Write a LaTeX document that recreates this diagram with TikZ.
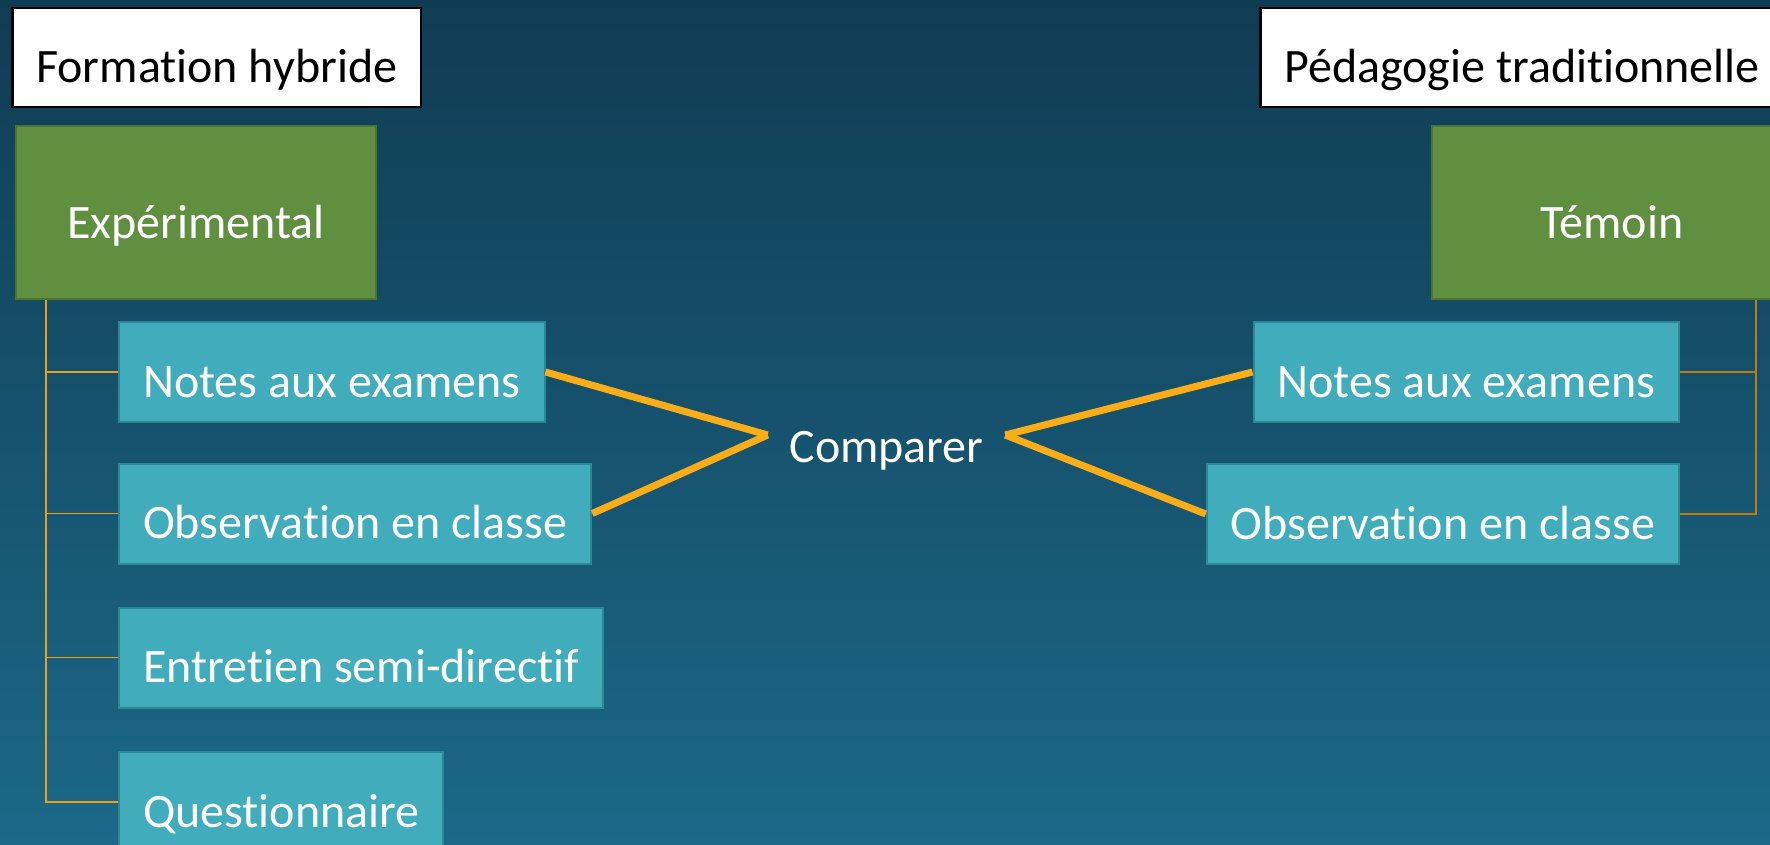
\documentclass[tikz,border=0pt]{standalone}
\usepackage{fontspec}
\setmainfont{Carlito}[Ligatures={NoCommon}]
\definecolor{bgtop}{HTML}{103C53}
\definecolor{bgbot}{HTML}{1C6888}
\definecolor{tealf}{HTML}{41ADBC}
\definecolor{teald}{HTML}{2C8796}
\definecolor{greenf}{HTML}{5F8F3F}
\definecolor{greend}{HTML}{4B7531}
\definecolor{orthick}{HTML}{FBAD18}
\definecolor{orleft}{HTML}{E8A31C}
\definecolor{orright}{HTML}{BE7D12}
\tikzset{
  txt/.style={font=\fontsize{48pt}{56pt}\selectfont},
  tealbox/.style={txt, fill=tealf, draw=teald, line width=2pt, text=white,
    inner xsep=24pt, inner ysep=0pt, text height=75pt, text depth=25pt},
  greenbox/.style={txt, fill=greenf, draw=greend, line width=2pt, text=white,
    minimum width=360pt, inner ysep=0pt, text height=113pt, text depth=60pt},
  whitebox/.style={txt, fill=white, draw=black, line width=2.5pt, text=black,
    inner xsep=24pt, inner ysep=0pt, text height=75pt, text depth=24pt},
  cmptext/.style={txt, text=white, inner xsep=21.5pt, inner ysep=0pt,
    text height=54pt, text depth=0pt},
  thick conn/.style={draw=orthick, line width=7pt},
  thinleft/.style={draw=orleft, line width=1.5pt},
  thinright/.style={draw=orright, line width=2.2pt},
}
\begin{document}
\begin{tikzpicture}[x=1pt, y=-1pt]
\useasboundingbox (0,0) rectangle (1770,845);
\clip (0,0) rectangle (1770,845);
\shade[top color=bgtop, bottom color=bgbot] (0,0) rectangle (1770,845);

% headers
\node[whitebox, anchor=west] (w1) at (11,57.5) {Formation hybride};
\node[whitebox, anchor=west] (w2) at (1259,57.5) {Pédagogie traditionnelle};

% groups
\node[greenbox] (g1) at (196,212.5) {Expérimental};
\node[greenbox] (g2) at (1612,212.5) {Témoin};

% left items
\node[tealbox, anchor=west] (n1) at (118,372) {Notes aux examens};
\node[tealbox, anchor=west] (n2) at (118,513.5) {Observation en classe};
\node[tealbox, anchor=west] (n3) at (118,657.5) {Entretien semi-directif};
\node[tealbox, anchor=west] (n4) at (118,802) {Questionnaire};

% right items
\node[tealbox, anchor=east] (r1) at (1680,372) {Notes aux examens};
\node[tealbox, anchor=east] (r2) at (1680,514) {Observation en classe};

% compare
\node[cmptext] (cmp) at (886.5,435) {Comparer};

% tree connectors
\draw[thinleft] ([xshift=31pt]g1.south west) |- (n1.west);
\draw[thinleft] ([xshift=31pt]g1.south west) |- (n2.west);
\draw[thinleft] ([xshift=31pt]g1.south west) |- (n3.west);
\draw[thinleft] ([xshift=31pt]g1.south west) |- (n4.west);
\draw[thinright] ([xshift=-37pt]g2.south east) |- (r1.east);
\draw[thinright] ([xshift=-37pt]g2.south east) |- (r2.east);

% comparison connectors
\draw[thick conn] (n1.east) -- (cmp.west);
\draw[thick conn] (n2.east) -- (cmp.west);
\draw[thick conn] (cmp.east) -- (r1.west);
\draw[thick conn] (cmp.east) -- (r2.west);
\end{tikzpicture}
\end{document}
